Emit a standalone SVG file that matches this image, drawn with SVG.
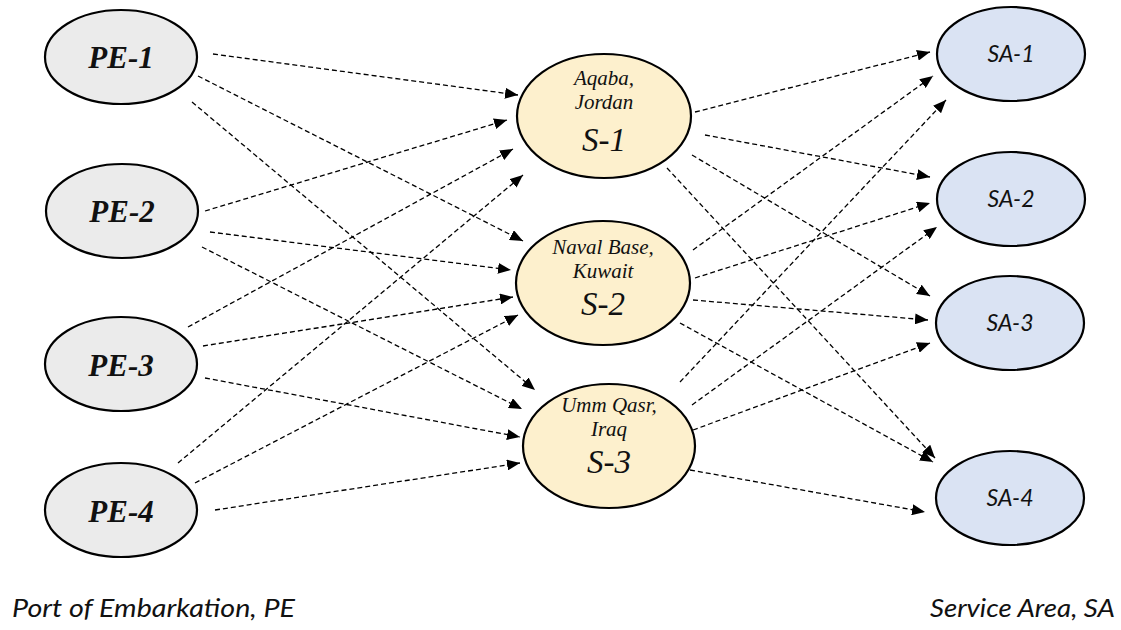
<svg xmlns="http://www.w3.org/2000/svg" width="1121" height="630" viewBox="0 0 1121 630">
<defs>
<marker id="ah" markerUnits="userSpaceOnUse" markerWidth="13" markerHeight="11" refX="13" refY="5.5" orient="auto">
<path d="M0,0 L13,5.5 L0,11 z" fill="#000"/>
</marker>
<style>
.pe{fill:#ebebeb;stroke:#000;stroke-width:2.2}
.s{fill:#fdf0cd;stroke:#000;stroke-width:2.2}
.sa{fill:#dae3f3;stroke:#000;stroke-width:2.2}
.pet{font-family:"Liberation Serif",serif;font-style:italic;font-weight:bold;font-size:31px;text-anchor:middle;fill:#111}
.st{font-family:"Liberation Serif",serif;font-style:italic;font-size:21px;text-anchor:middle;fill:#111}
.sl{font-family:"Liberation Serif",serif;font-style:italic;font-size:33px;text-anchor:middle;fill:#111}
.sat{font-family:Lato,"Open Sans",sans-serif;font-style:italic;font-size:23px;text-anchor:middle;fill:#111}
.cap{font-family:Lato,"Open Sans",sans-serif;font-style:italic;font-size:25px;fill:#111}
.e{fill:none;stroke:#000;stroke-width:1.3;stroke-dasharray:5 3;marker-end:url(#ah)}
</style>
</defs>
<rect width="1121" height="630" fill="#fff"/>
<g id="connectors">
<line class="e" x1="213" y1="54" x2="518" y2="95"/>
<line class="e" x1="198" y1="76" x2="523" y2="241"/>
<line class="e" x1="192" y1="102" x2="535" y2="390"/>
<line class="e" x1="205" y1="211" x2="507" y2="120"/>
<line class="e" x1="210" y1="232" x2="511" y2="270"/>
<line class="e" x1="202" y1="247" x2="522" y2="409"/>
<line class="e" x1="188" y1="327" x2="513" y2="149"/>
<line class="e" x1="203" y1="346" x2="513" y2="297"/>
<line class="e" x1="205" y1="378" x2="520" y2="437"/>
<line class="e" x1="178" y1="463" x2="523" y2="175"/>
<line class="e" x1="195" y1="483" x2="518" y2="315"/>
<line class="e" x1="215" y1="510" x2="520" y2="463"/>
<line class="e" x1="695" y1="112" x2="930" y2="52"/>
<line class="e" x1="705" y1="135" x2="930" y2="177"/>
<line class="e" x1="692" y1="155" x2="930" y2="296"/>
<line class="e" x1="667" y1="168" x2="935" y2="458"/>
<line class="e" x1="693" y1="250" x2="933" y2="76"/>
<line class="e" x1="695" y1="278" x2="930" y2="203"/>
<line class="e" x1="693" y1="300" x2="928" y2="320"/>
<line class="e" x1="680" y1="323" x2="933" y2="462"/>
<line class="e" x1="680" y1="382" x2="946" y2="100"/>
<line class="e" x1="692" y1="405" x2="937" y2="227"/>
<line class="e" x1="693" y1="430" x2="930" y2="343"/>
<line class="e" x1="690" y1="470" x2="925" y2="512"/>
</g>
<g id="PE-1"><ellipse class="pe" cx="121" cy="57" rx="76" ry="47"/><text class="pet" x="121" y="68">PE-1</text></g>
<g id="PE-2"><ellipse class="pe" cx="122" cy="211" rx="76" ry="47"/><text class="pet" x="122" y="222">PE-2</text></g>
<g id="PE-3"><ellipse class="pe" cx="121" cy="364" rx="76" ry="47"/><text class="pet" x="121" y="376">PE-3</text></g>
<g id="PE-4"><ellipse class="pe" cx="121" cy="510" rx="76" ry="47"/><text class="pet" x="121" y="522">PE-4</text></g>
<g id="S-1"><ellipse class="s" cx="604" cy="116" rx="87" ry="62"/><text class="st" x="604" y="85">Aqaba,</text><text class="st" x="604" y="109">Jordan</text><text class="sl" x="604" y="151">S-1</text></g>
<g id="S-2"><ellipse class="s" cx="603" cy="283" rx="87" ry="62"/><text class="st" x="603" y="254">Naval Base,</text><text class="st" x="603" y="278">Kuwait</text><text class="sl" x="603" y="315">S-2</text></g>
<g id="S-3"><ellipse class="s" cx="609" cy="446" rx="86" ry="62"/><text class="st" x="609" y="412">Umm Qasr,</text><text class="st" x="609" y="436">Iraq</text><text class="sl" x="609" y="473">S-3</text></g>
<g id="SA-1"><ellipse class="sa" cx="1011" cy="54" rx="74" ry="47"/><text class="sat" x="1011" y="62">SA-1</text></g>
<g id="SA-2"><ellipse class="sa" cx="1011" cy="199" rx="74" ry="47"/><text class="sat" x="1011" y="207">SA-2</text></g>
<g id="SA-3"><ellipse class="sa" cx="1010" cy="323" rx="74" ry="47"/><text class="sat" x="1010" y="331">SA-3</text></g>
<g id="SA-4"><ellipse class="sa" cx="1010" cy="498" rx="74" ry="47"/><text class="sat" x="1010" y="506">SA-4</text></g>
<text class="cap" x="12" y="617" textLength="283" lengthAdjust="spacingAndGlyphs">Port of Embarkation, PE</text>
<text class="cap" x="930" y="617" textLength="185" lengthAdjust="spacingAndGlyphs">Service Area, SA</text>
</svg>
